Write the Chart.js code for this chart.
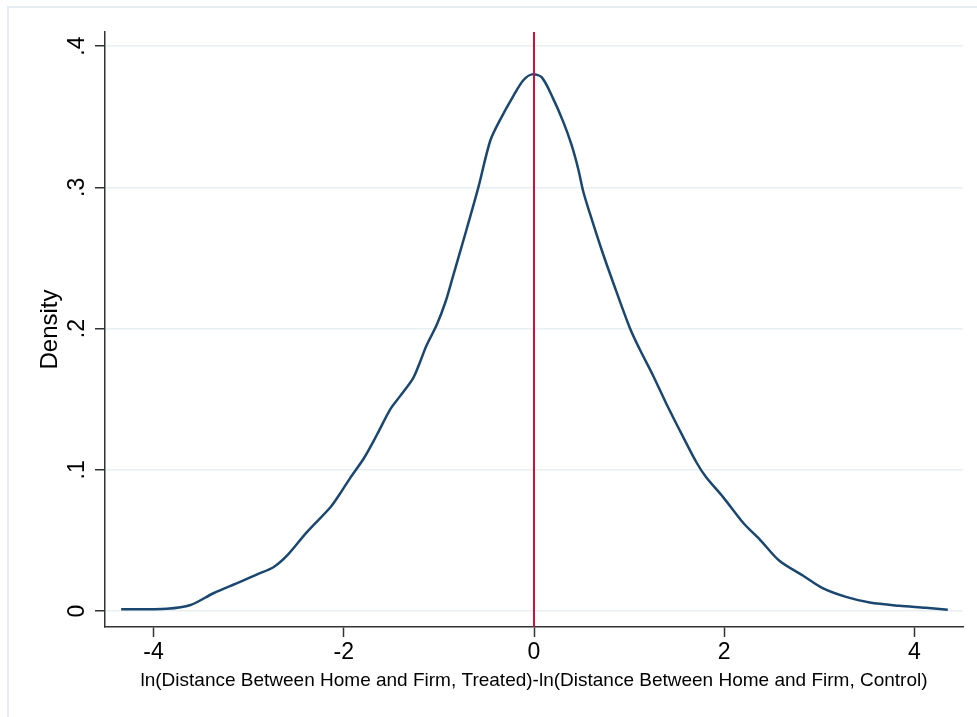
<!DOCTYPE html>
<html>
<head>
<meta charset="utf-8">
<title>Density</title>
<script src="https://cdn.jsdelivr.net/npm/chart.js@4.4.0/dist/chart.umd.min.js"></script>
<style>
  html, body { margin: 0; padding: 0; background: #fff; }
  #wrap { width: 977px; height: 717px; }
</style>
</head>
<body>
<div id="wrap"><canvas id="densityChart" width="977" height="717"></canvas></div>
<script>
// density curve
const xValues = [-4.34, -3.86, -3.61, -3.37, -3.09, -2.91, -2.74, -2.60, -2.39, -2.14, -2.04, -1.93,
  -1.79, -1.65, -1.51, -1.41, -1.27, -1.20, -1.13, -1.02, -0.93, -0.86, -0.71, -0.585,
  -0.46, -0.355, -0.215, -0.11, -0.02, 0.08, 0.20, 0.31, 0.395, 0.465, 0.52, 0.59, 0.71, 0.83,
  1.01, 1.11, 1.25, 1.39, 1.57, 1.71, 1.81, 1.99, 2.21, 2.37, 2.58, 2.83, 3.04, 3.28, 3.53,
  3.84, 4.12, 4.35];
const densityValues = [0.0012, 0.0017, 0.0043, 0.0126, 0.0206, 0.026, 0.031, 0.039, 0.0557, 0.0735, 0.083, 0.0945,
  0.108, 0.125, 0.143, 0.152, 0.165, 0.176, 0.188, 0.203, 0.219, 0.235, 0.270, 0.300,
  0.333, 0.348, 0.365, 0.376, 0.380, 0.378, 0.363, 0.346, 0.330, 0.313, 0.2965, 0.281, 0.256, 0.233,
  0.200, 0.1855, 0.167, 0.147, 0.123, 0.105, 0.0947, 0.0805, 0.0616, 0.051, 0.0356, 0.025, 0.016, 0.010, 0.006,
  0.0037, 0.0023, 0.0009];

const xTicks = [-4, -2, 0, 2, 4];
const yTicks = [0, 0.1, 0.2, 0.3, 0.4];
const yTickLabels = ['0', '.1', '.2', '.3', '.4'];
const xMin = -4.51, xMax = 4.51;
const yMin = -0.0113, yMax = 0.41;
const refLineX = 0;

const font = '"Liberation Sans", Arial, Helvetica, sans-serif';
const axisColor = '#333333';
const gridColor = '#e8eff2';

const curve = xValues.map((x, i) => ({ x: x, y: densityValues[i] }));

const frame = {
  id: 'frame',
  beforeDraw(chart) {
    const c = chart.ctx;
    c.save();
    c.fillStyle = '#ffffff';
    c.fillRect(0, 0, chart.width, chart.height);
    c.strokeStyle = '#e6eef1';
    c.lineWidth = 2;
    c.strokeRect(8, 7, 1200, 1200);
    c.restore();
  }
};

new Chart(document.getElementById('densityChart'), {
  type: 'scatter',
  data: {
    datasets: [
      {
        label: 'reference',
        data: [{ x: refLineX, y: yMin }, { x: refLineX, y: yMax }],
        showLine: true,
        borderColor: '#d0103a',
        borderWidth: 2,
        pointRadius: 0,
        order: 0
      },
      {
        label: 'Density',
        data: curve,
        showLine: true,
        borderColor: '#1a476f',
        borderWidth: 2.5,
        pointRadius: 0,
        tension: 0.3,
        order: 1
      }
    ]
  },
  options: {
    responsive: false,
    animation: false,
    layout: { padding: { top: 32, right: 14, left: 0, bottom: 0 } },
    plugins: {
      legend: { display: false },
      tooltip: { enabled: false }
    },
    scales: {
      x: {
        type: 'linear',
        min: xMin,
        max: xMax,
        afterBuildTicks(scale) { scale.ticks = xTicks.map(v => ({ value: v })); },
        afterFit(scale) { scale.height = 90; },
        ticks: {
          color: '#000',
          font: { family: font, size: 23 },
          padding: 2,
          maxRotation: 0,
          callback: v => String(v)
        },
        grid: {
          drawOnChartArea: false,
          drawTicks: true,
          tickLength: 10,
          tickColor: axisColor,
          tickWidth: 1.5
        },
        border: { display: true, color: axisColor, width: 1.5 },
        title: {
          display: true,
          text: 'ln(Distance Between Home and Firm, Treated)-ln(Distance Between Home and Firm, Control)',
          color: '#000',
          font: { family: font, size: 19 },
          padding: { top: 0, bottom: 25 }
        }
      },
      y: {
        type: 'linear',
        min: yMin,
        max: yMax,
        afterBuildTicks(scale) { scale.ticks = yTicks.map(v => ({ value: v })); },
        afterFit(scale) { scale.width = 105; },
        ticks: {
          color: '#000',
          font: { family: font, size: 23 },
          padding: 8,
          minRotation: 90,
          maxRotation: 90,
          crossAlign: 'center',
          callback: v => yTickLabels[yTicks.indexOf(v)]
        },
        grid: {
          color: gridColor,
          lineWidth: 1.5,
          drawTicks: true,
          tickLength: 10,
          tickColor: axisColor,
          tickWidth: 1.5
        },
        border: { display: true, color: axisColor, width: 1.5 },
        title: {
          display: true,
          text: 'Density',
          color: '#000',
          font: { family: font, size: 24 },
          padding: { top: 36, bottom: 0 }
        }
      }
    }
  },
  plugins: [frame]
});
</script>
</body>
</html>
